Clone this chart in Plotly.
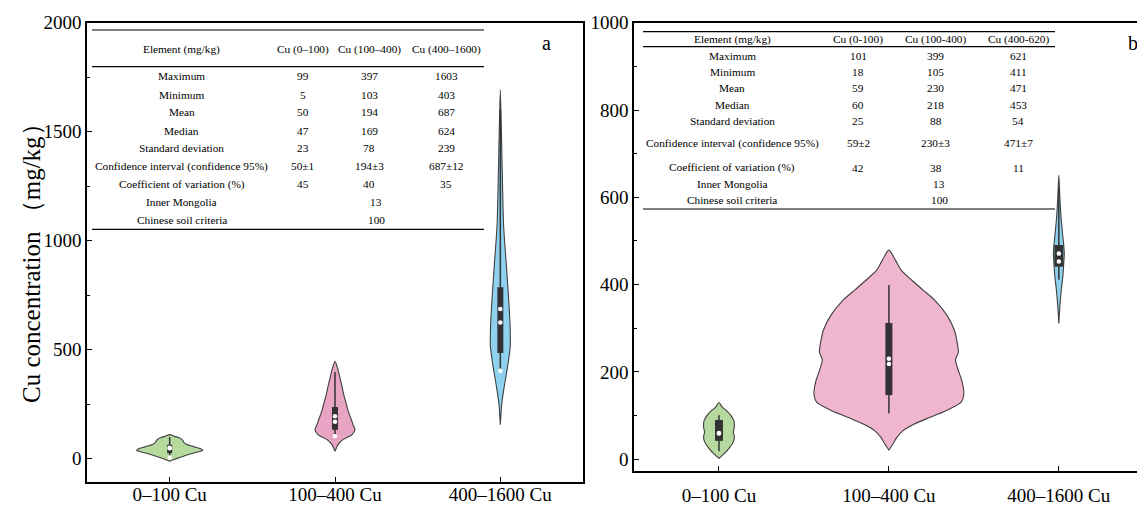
import plotly.graph_objects as go

W, H = 1137, 506
FONT = "Times New Roman, Liberation Serif, serif"

categories = ["0–100 Cu", "100–400 Cu", "400–1600 Cu"]

# ---------------- Panel a: violin outlines (Cu mg/kg, half-width in category units)
a_green_y = [110, 102, 95, 85, 75, 65, 55, 45, 38, 30, 20, 10, 0, -12]
a_green_w = [0, 0.030, 0.060, 0.079, 0.085, 0.103, 0.145, 0.188, 0.200, 0.169, 0.121, 0.079, 0.042, 0]
a_pink_y = [446, 408, 370, 332, 290, 255, 220, 194, 170, 156, 133, 110, 87, 64, 33]
a_pink_w = [0, 0.018, 0.030, 0.042, 0.054, 0.067, 0.079, 0.091, 0.103, 0.109, 0.121, 0.103, 0.048, 0.018, 0]
a_blue_y = [1693, 1372, 1066, 913, 760, 607, 515, 423, 332, 255, 156]
a_blue_w = [0, 0.010, 0.020, 0.034, 0.048, 0.059, 0.060, 0.044, 0.024, 0.009, 0]

a_q1 = [25, 133, 485]
a_q3 = [64, 237, 786]
a_min = [5, 103, 403]
a_max = [99, 397, 1603]
a_mean = [50, 194, 687]
a_median = [47, 169, 624]

# ---------------- Panel b
b_green_y = [130, 120, 110, 100, 88, 75, 62, 50, 38, 25, 12, 2]
b_green_w = [0, 0.018, 0.047, 0.071, 0.088, 0.091, 0.085, 0.091, 0.082, 0.059, 0.029, 0]
b_pink_y = [479, 455, 433, 410, 388, 365, 330, 296, 265, 245, 228, 210, 180, 150, 130, 110, 95, 80, 65, 50, 35, 21]
b_pink_w = [0, 0.040, 0.072, 0.135, 0.200, 0.268, 0.341, 0.385, 0.403, 0.409, 0.392, 0.403, 0.429, 0.441,
            0.424, 0.329, 0.235, 0.147, 0.082, 0.047, 0.024, 0]
b_blue_y = [651, 600, 560, 520, 490, 470, 450, 420, 390, 350, 311]
b_blue_w = [0, 0.006, 0.012, 0.021, 0.029, 0.032, 0.029, 0.024, 0.015, 0.006, 0]

b_q1 = [42, 147, 441]
b_q3 = [90, 312, 491]
b_min = [18, 105, 411]
b_max = [101, 399, 621]
b_mean = [59, 230, 471]
b_median = [60, 218, 453]

# ---------------- Tables
row_labels = ["Maximum", "Minimum", "Mean", "Median", "Standard deviation",
              "Confidence interval (confidence 95%)", "Coefficient of variation (%)"]
extra_labels = ["Inner Mongolia", "Chinese soil criteria"]
extra_values = ["13", "100"]

ta_header = ["Element (mg/kg)", "Cu (0–100)", "Cu (100–400)", "Cu (400–1600)"]
ta_col1 = ["99", "5", "50", "47", "23", "50±1", "45"]
ta_col2 = ["397", "103", "194", "169", "78", "194±3", "40"]
ta_col3 = ["1603", "403", "687", "624", "239", "687±12", "35"]

tb_header = ["Element (mg/kg)", "Cu (0-100)", "Cu (100-400)", "Cu (400-620)"]
tb_col1 = ["101", "18", "59", "60", "25", "59±2", "42"]
tb_col2 = ["399", "105", "230", "218", "88", "230±3", "38"]
tb_col3 = ["621", "411", "471", "453", "54", "471±7", "11"]

a_fill = ["#b6d99e", "#e8a4c3", "#8fd2f0"]
b_fill = ["#b5d99e", "#f0b5cf", "#8dd1ee"]
OUTLINE = "#3f3f3f"
BOXC = "#333333"

fig = go.Figure()


def add_violin(cx, ys, ws, fill, xa, ya):
    xs = [cx + w for w in ws] + [cx - w for w in reversed(ws)]
    yy = list(ys) + list(reversed(ys))
    fig.add_trace(go.Scatter(x=xs, y=yy, mode="lines", fill="toself", fillcolor=fill,
                             line=dict(color=OUTLINE, width=1.1, shape="spline", smoothing=0.7),
                             xaxis=xa, yaxis=ya, showlegend=False, hoverinfo="skip"))


def add_box(i, q1, q3, mn, mx, dots, bw, xa, ya):
    fig.add_trace(go.Scatter(x=[i, i], y=[mn, mx], mode="lines", line=dict(color=BOXC, width=1.5),
                             xaxis=xa, yaxis=ya, showlegend=False, hoverinfo="skip"))
    fig.add_trace(go.Scatter(x=[i, i], y=[q1, q3], mode="lines", line=dict(color=BOXC, width=bw),
                             xaxis=xa, yaxis=ya, showlegend=False, hoverinfo="skip"))
    fig.add_trace(go.Scatter(x=[i] * len(dots), y=dots, mode="markers",
                             marker=dict(color="white", size=4.5, line=dict(width=0)),
                             xaxis=xa, yaxis=ya, showlegend=False, hoverinfo="skip"))


a_shapes = [(a_green_y, a_green_w), (a_pink_y, a_pink_w), (a_blue_y, a_blue_w)]
b_shapes = [(b_green_y, b_green_w), (b_pink_y, b_pink_w), (b_blue_y, b_blue_w)]
a_bw = [5, 6, 6]
b_bw = [8, 7, 9]

for i in range(3):
    add_violin(i, a_shapes[i][0], a_shapes[i][1], a_fill[i], "x", "y")
    add_box(i, a_q1[i], a_q3[i], a_min[i], a_max[i], [a_mean[i], a_median[i], a_min[i]], a_bw[i], "x", "y")
    add_violin(i, b_shapes[i][0], b_shapes[i][1], b_fill[i], "x2", "y2")
    add_box(i, b_q1[i], b_q3[i], b_min[i], b_max[i], [b_mean[i], b_median[i]], b_bw[i], "x2", "y2")


def px(x):
    return x / W


def py(y):
    return 1 - y / H


tickfont = dict(family=FONT, size=19, color="black")
common_x = dict(range=[-0.5, 2.5], tickvals=[0, 1, 2], ticktext=categories, ticks="inside",
                ticklen=5, tickwidth=1.2, tickcolor="black", showline=True, linecolor="black",
                linewidth=1.5, showgrid=False, zeroline=False, tickfont=tickfont, fixedrange=True,
                automargin=False)

fig.update_layout(
    width=W, height=H, margin=dict(l=0, r=0, t=0, b=0, autoexpand=False),
    paper_bgcolor="white", plot_bgcolor="white",
    xaxis=dict(common_x, domain=[px(87), px(583)], anchor="y", mirror=True, ticklabelstandoff=-5),
    yaxis=dict(domain=[py(481.5), py(22.7)], range=[-105, 2000], tickvals=[0, 500, 1000, 1500, 2000],
               ticks="inside", ticklen=5, tickwidth=1.2, tickcolor="black",
               minor=dict(tickvals=[250, 750, 1250, 1750], ticks="inside", ticklen=3, tickcolor="black"),
               showline=True, linecolor="black", linewidth=1.5, mirror=True, showgrid=False,
               zeroline=False, tickfont=tickfont, anchor="x", automargin=False),
    xaxis2=dict(common_x, domain=[px(634), 1.0], range=[-0.5, 2.46], anchor="y2", mirror=True,
                ticklabelstandoff=6),
    yaxis2=dict(domain=[py(471), py(22.7)], range=[-27, 1000], tickvals=[0, 200, 400, 600, 800, 1000],
                ticks="inside", ticklen=5, tickwidth=1.2, tickcolor="black",
                minor=dict(tickvals=[100, 300, 500, 700, 900], ticks="inside", ticklen=3, tickcolor="black"),
                showline=True, linecolor="black", linewidth=1.5, mirror=False, showgrid=False,
                zeroline=False, tickfont=tickfont, anchor="x2", automargin=False),
)

annotations = []
shapes = []


def txt(x, y, s, size):
    annotations.append(dict(x=px(x), y=py(y), xref="paper", yref="paper", text=s, showarrow=False,
                            xanchor="center", yanchor="middle",
                            font=dict(family=FONT, size=size, color="black")))


def hline(x0, x1, y, w=1.2):
    shapes.append(dict(type="line", xref="paper", yref="paper", x0=px(x0), x1=px(x1),
                       y0=py(y), y1=py(y), line=dict(color="black", width=w)))


TS = 11.3
# table a
a_cols_x = [181.7, 302.7, 369, 446]
a_rows_y = [75.7, 95, 112.3, 130.7, 148.3, 166, 184.3]
a_extra_y = [202.3, 220]
for j, h in enumerate(ta_header):
    txt(a_cols_x[j], 50, h, TS)
for r, lab in enumerate(row_labels):
    txt(a_cols_x[0], a_rows_y[r], lab, TS)
    txt(a_cols_x[1], a_rows_y[r], ta_col1[r], TS)
    txt(a_cols_x[2], a_rows_y[r], ta_col2[r], TS)
    txt(a_cols_x[3], a_rows_y[r], ta_col3[r], TS)
for r, lab in enumerate(extra_labels):
    txt(a_cols_x[0], a_extra_y[r], lab, TS)
    txt(376, a_extra_y[r], extra_values[r], TS)
hline(92, 484, 30)
hline(92, 484, 66.7)
hline(92, 484, 229.3)

# table b
b_cols_x = [732, 858, 936, 1018]
b_rows_y = [56, 71.7, 88.3, 105, 120.7, 143.3, 167.7]
b_extra_y = [184, 200]
for j, h in enumerate(tb_header):
    txt(b_cols_x[j], 40, h, TS)
for r, lab in enumerate(row_labels):
    txt(b_cols_x[0], b_rows_y[r], lab, TS)
    txt(b_cols_x[1], b_rows_y[r], tb_col1[r], TS)
    txt(b_cols_x[2], b_rows_y[r], tb_col2[r], TS)
    txt(b_cols_x[3], b_rows_y[r], tb_col3[r], TS)
for r, lab in enumerate(extra_labels):
    txt(b_cols_x[0], b_extra_y[r], lab, TS)
    txt(939, b_extra_y[r], extra_values[r], TS)
hline(643, 1055, 31.7)
hline(643, 1055, 46.7)
hline(643, 1055, 209)

# panel letters
txt(546, 43, "a", 20)
txt(1133, 43, "b", 20)

# y title
annotations.append(dict(x=px(31), y=py(257), xref="paper", yref="paper",
                        text="Cu concentration （mg/kg）", showarrow=False, textangle=-90,
                        xanchor="center", yanchor="middle",
                        font=dict(family=FONT, size=25, color="black")))

fig.update_layout(annotations=annotations, shapes=shapes)
fig.write_html("out.html")
